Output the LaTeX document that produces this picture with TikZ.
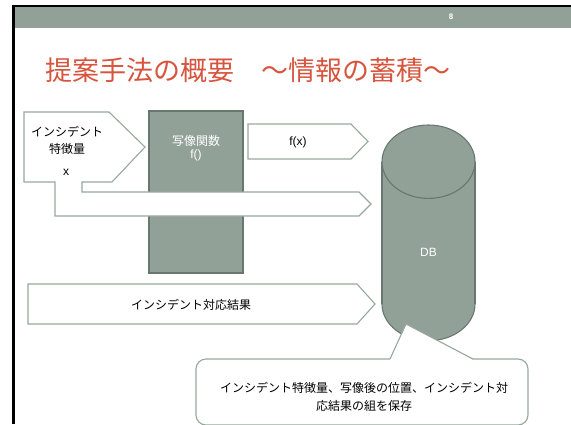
\documentclass[tikz,border=0pt]{standalone}
\usepackage{fontspec}
\setmainfont{Liberation Sans}
\newfontfamily\jp{Noto Sans CJK JP}
\definecolor{sage}{RGB}{146,161,151}
\definecolor{sagedark}{RGB}{105,120,110}
\definecolor{sageline}{RGB}{150,168,156}
\definecolor{titlered}{RGB}{215,85,62}
\begin{document}
\begin{tikzpicture}[x=1pt,y=-1pt,
  arrowshape/.style={draw=sageline, fill=white, line width=1.1pt, line join=miter},
  jptext/.style={font=\jp\fontsize{12}{18}\selectfont, inner sep=0pt},
  lattext/.style={font=\fontsize{12}{14}\selectfont, inner sep=0pt},
  darkshape/.style={draw=sagedark, fill=sage, line width=1.1pt}]
\useasboundingbox (0,0) rectangle (571,424);
\fill[white] (0,0) rectangle (571,424);
% slide frame and header bar
\fill[black] (12,5) rectangle (571,7);
\fill[black] (12,5) rectangle (14.5,424);
\fill[sage] (14.5,7) rectangle (571,27.7);
\node[text=white, font=\bfseries\fontsize{8}{9}\selectfont, inner sep=0pt] (pg) at (451,17) {8};
% title
\node[anchor=west, text=titlered, font=\jp\fontsize{27}{30}\selectfont, inner sep=0pt] (title) at (45,70) {提案手法の概要　～情報の蓄積～};
% mapping function box
\node[darkshape, minimum width=94pt, minimum height=162pt, inner sep=0pt] (mapbox) at (196,192) {};
\node[jptext, text=white] (maptext) at (196,141) {写像関数};
\node[lattext, text=white] (mapf) at (196,155) {f()};
% incident feature arrow with long bent arrow
\draw[arrowshape] (24,112) -- (109,112) -- (145,147) -- (112,182) -- (82,182) -- (82,192) -- (359,192) -- (371,204) -- (359,216) -- (55,216) -- (55,182) -- (24,182) -- cycle;
\node[jptext] (feat1) at (67,132) {インシデント};
\node[jptext] (feat2) at (67,149) {特徴量};
\node[lattext] (featx) at (66,172) {x};
% f(x) arrow
\draw[arrowshape] (248,124) -- (351,124) -- (368,141.5) -- (351,159) -- (248,159) -- cycle;
\node[lattext] (fx) at (298,142) {f(x)};
% result arrow
\draw[arrowshape] (28,284) -- (357,284) -- (375,304) -- (357,324) -- (28,324) -- cycle;
\node[jptext] (result) at (191,305) {インシデント対応結果};
% DB cylinder
\draw[darkshape] (428.5,304) ellipse [x radius=46.5pt, y radius=36.7pt];
\fill[sage] (382,161.7) rectangle (475,304);
\draw[sagedark, line width=1.1pt] (382,161.7) -- (382,304);
\draw[sagedark, line width=1.1pt] (475,161.7) -- (475,304);
\draw[darkshape] (428.5,161.7) ellipse [x radius=46.5pt, y radius=36.7pt];
\node[lattext, text=white] (db) at (428.5,252) {DB};
% callout
\node[draw=sageline, fill=white, line width=1.1pt, rounded corners=10pt, minimum width=332pt, minimum height=66pt, inner sep=0pt] (callout) at (362,392) {};
\fill[white] (390,359.9) -- (406,324) -- (473,359.9) -- cycle;
\draw[sageline, line width=1.1pt, line join=miter] (390,359) -- (406,324) -- (473,359);
\node[jptext, align=center] (calltext) at (364,397) {インシデント特徴量、写像後の位置、インシデント対\\応結果の組を保存};
\end{tikzpicture}
\end{document}
